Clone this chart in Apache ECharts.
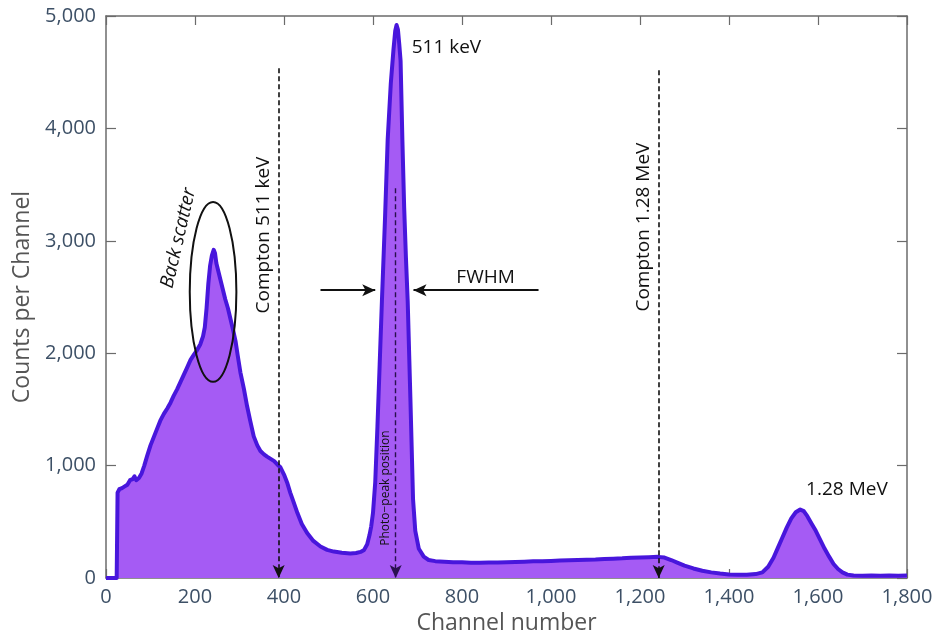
<!DOCTYPE html>
<html>
<head>
<meta charset="utf-8">
<script src="https://cdn.jsdelivr.net/npm/echarts@6/dist/echarts.min.js"></script>
<style>
html,body{margin:0;padding:0;background:#fff;}
#chart{width:936px;height:640px;}
</style>
</head>
<body>
<div id="chart"></div>
<script>
// ---- data ----
const channels = [0,24,26,30,36,42,48,54,60,64,68,74,80,86,92,100,108,116,122,130,138,145,152,160,167,175,182,190,198,205,212,218,222,226,230,234,238,242,245,248,253,258,263,268,274,280,286,291,296,302,310,317,324,332,340,347,355,362,370,378,385,392,400,407,414,422,430,440,452,466,482,497,512,530,549,562,572,580,587,592,596,600,605,610,615,620,627,633,640,646,650,653,656,659,662,666,670,674,678,684,690,695,703,714,725,740,760,780,800,820,840,860,880,900,920,940,960,980,1000,1020,1040,1060,1080,1100,1120,1140,1160,1180,1200,1220,1240,1255,1270,1285,1300,1320,1340,1360,1380,1400,1420,1440,1460,1475,1488,1500,1510,1520,1530,1540,1550,1560,1568,1576,1586,1595,1605,1615,1625,1635,1645,1655,1666,1680,1700,1720,1740,1760,1780,1800];
const counts   = [0,0,760,790,800,815,830,870,880,905,870,890,930,1000,1080,1180,1260,1340,1400,1460,1510,1560,1620,1680,1740,1810,1870,1940,1990,2030,2080,2150,2230,2400,2620,2780,2870,2920,2890,2800,2720,2640,2560,2480,2400,2300,2200,2110,1980,1830,1680,1530,1400,1260,1180,1130,1100,1080,1060,1040,1010,985,920,850,760,670,580,480,400,330,280,250,235,225,218,222,232,250,300,380,460,580,850,1350,1900,2460,3200,3900,4400,4700,4870,4920,4880,4750,4600,3900,3300,2850,2460,1600,700,420,260,190,160,150,145,140,140,135,135,138,138,140,142,145,148,150,152,155,158,160,163,165,170,172,175,180,182,185,188,182,160,135,110,85,65,50,40,32,28,28,35,50,100,180,270,360,450,530,585,610,595,550,480,420,340,260,190,125,80,50,30,22,20,22,20,22,20,22];
const xTickValues = [0,200,400,600,800,1000,1200,1400,1600,1800];
const yTickValues = [0,1000,2000,3000,4000,5000];

// annotation anchors (data coordinates)
const comptonLow  = {channel: 388,  top: 4536, label: 'Compton 511 keV'};
const comptonHigh = {channel: 1242, top: 4518, label: 'Compton 1.28 MeV'};
const photoPeak   = {channel: 651,  top: 3468, label: 'Photo\u2212peak position'};
const fwhm = {level: 2561, leftFrom: 482, leftTo: 605, rightFrom: 972, rightTo: 691, label: 'FWHM'};

function fmt(v){ return String(v).replace(/\B(?=(\d{3})+(?!\d))/g, ','); }

const chart = echarts.init(document.getElementById('chart'), null, {renderer:'canvas'});
const tickColor = '#3d5066';
const axisGray = '#6b6b6b';
const FONT = 'Open Sans';

const seriesData = channels.map((c,i)=>[c, counts[i]]);

const dashStyle = {type:[5,3], color:'#111', width:1.6};
const solidStyle = {type:'solid', color:'#111', width:2};

const option = {
  animation:false,
  backgroundColor:'#fff',
  grid:{left:106,right:29,top:16,bottom:62,containLabel:false,outerBoundsMode:'none'},
  xAxis:[{
    type:'value',min:0,max:1800,interval:200,
    axisLine:{show:true,onZero:false,lineStyle:{color:axisGray,width:1.5}},
    axisTick:{show:true,inside:true,length:9,lineStyle:{color:axisGray,width:1.2}},
    axisLabel:{color:tickColor,fontSize:20,fontFamily:FONT,margin:9,formatter:v=>xTickValues.includes(v)?fmt(v):''},
    splitLine:{show:false},
    name:'Channel number',nameLocation:'middle',nameGap:34,
    nameTextStyle:{color:'#555',fontSize:23,fontFamily:FONT}
  },{
    type:'value',position:'top',min:0,max:1800,interval:200,
    axisLine:{show:true,onZero:false,lineStyle:{color:axisGray,width:1.5}},
    axisTick:{show:true,inside:true,length:9,lineStyle:{color:axisGray,width:1.2}},
    axisLabel:{show:false},splitLine:{show:false}
  }],
  yAxis:[{
    type:'value',min:0,max:5000,interval:1000,
    axisLine:{show:true,onZero:false,lineStyle:{color:axisGray,width:1.5}},
    axisTick:{show:true,inside:true,length:10,lineStyle:{color:axisGray,width:1.2}},
    axisLabel:{color:tickColor,fontSize:20,fontFamily:FONT,margin:10,formatter:v=>yTickValues.includes(v)?fmt(v):''},
    splitLine:{show:false},
    name:'Counts per Channel',nameLocation:'middle',nameGap:66,nameRotate:90,
    nameTextStyle:{color:'#555',fontSize:23,fontFamily:FONT}
  },{
    type:'value',position:'right',min:0,max:5000,interval:1000,
    axisLine:{show:true,onZero:false,lineStyle:{color:axisGray,width:1.5}},
    axisTick:{show:true,inside:true,length:10,lineStyle:{color:axisGray,width:1.2}},
    axisLabel:{show:false},splitLine:{show:false}
  }],
  series:[{
    type:'line',
    xAxisIndex:0,yAxisIndex:0,
    data:seriesData,
    showSymbol:false,
    smooth:false,
    lineStyle:{color:'#4816dc',width:4,join:'round'},
    areaStyle:{color:'#a55bf4',opacity:1},
    z:2,
    markLine:{
      silent:true,
      symbol:['none','arrow'],
      symbolSize:[9,13],
      label:{show:false},
      emphasis:{disabled:true},
      data:[
        [{coord:[comptonLow.channel,comptonLow.top],lineStyle:dashStyle,itemStyle:{color:'#111'}},{coord:[comptonLow.channel,0]}],
        [{coord:[comptonHigh.channel,comptonHigh.top],lineStyle:dashStyle,itemStyle:{color:'#111'}},{coord:[comptonHigh.channel,0]}],
        [{coord:[photoPeak.channel,photoPeak.top],lineStyle:{type:[5,3],color:'#2a1050',width:1.4},itemStyle:{color:'#111'}},{coord:[photoPeak.channel,0]}],
        [{coord:[fwhm.leftFrom,fwhm.level],lineStyle:solidStyle,itemStyle:{color:'#111'}},{coord:[fwhm.leftTo,fwhm.level]}],
        [{coord:[fwhm.rightFrom,fwhm.level],lineStyle:solidStyle,itemStyle:{color:'#111'}},{coord:[fwhm.rightTo,fwhm.level]}]
      ]
    }
  }]
};
chart.setOption(option);

// text annotations anchored in data coordinates
const notes = [
  {text:comptonLow.label,  at:[354,3051], rot:Math.PI/2, size:19, style:'normal'},
  {text:comptonHigh.label, at:[1208,3122], rot:Math.PI/2, size:19, style:'normal'},
  {text:photoPeak.label,   at:[628,800],  rot:Math.PI/2, size:12, style:'normal'},
  {text:'511 keV',         at:[765,4718], rot:0, size:19, style:'normal'},
  {text:fwhm.label,        at:[853,2677], rot:0, size:19, style:'normal'},
  {text:'1.28 MeV',        at:[1665,783], rot:0, size:19, style:'normal'},
  {text:'Back scatter',    at:[163,3024], rot:1.344, size:19, style:'italic'}
];
const px = p => chart.convertToPixel({xAxisIndex:0,yAxisIndex:0}, p);
const graphics = notes.map(n=>{
  const p = px(n.at);
  return {type:'text',x:p[0],y:p[1],rotation:n.rot,z:10,silent:true,
    style:{text:n.text,fill:'#111',font:n.style+' '+n.size+'px "'+FONT+'"',align:'center',verticalAlign:'middle'}};
});
// back-scatter ellipse
const eC = px([240.6,2546]);
const eX = px([240.6+52.4,2546]);
const eY = px([240.6,2546+800]);
graphics.push({type:'ellipse',z:10,silent:true,
  shape:{cx:eC[0],cy:eC[1],rx:Math.abs(eX[0]-eC[0]),ry:Math.abs(eC[1]-eY[1])},
  style:{fill:null,stroke:'#111',lineWidth:2}});
chart.setOption({graphic:graphics});
</script>
</body>
</html>
